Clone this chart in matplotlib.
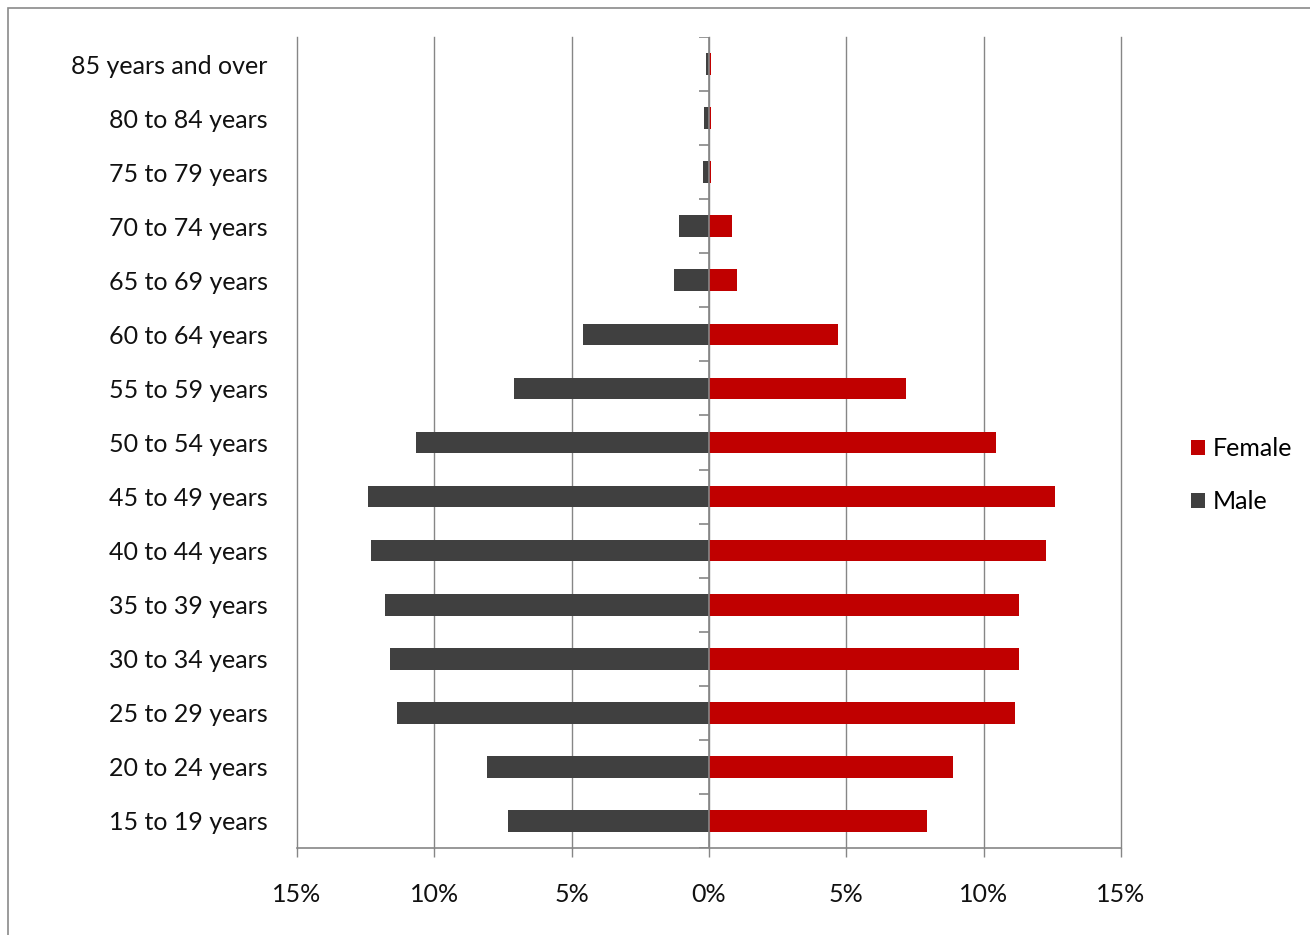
import matplotlib.pyplot as plt
import numpy as np
from matplotlib.patches import Rectangle
from matplotlib.ticker import FuncFormatter

# age groups listed bottom to top
AGE_GROUPS = [
    "15 to 19 years", "20 to 24 years", "25 to 29 years", "30 to 34 years",
    "35 to 39 years", "40 to 44 years", "45 to 49 years", "50 to 54 years",
    "55 to 59 years", "60 to 64 years", "65 to 69 years", "70 to 74 years",
    "75 to 79 years", "80 to 84 years", "85 years and over",
]
# share of each sex, in percent
MALE = [7.3, 8.1, 11.35, 11.6, 11.8, 12.3, 12.4, 10.65, 7.1, 4.6, 1.27, 1.1, 0.23, 0.17, 0.1]
FEMALE = [7.94, 8.9, 11.15, 11.3, 11.3, 12.27, 12.6, 10.45, 7.17, 4.7, 1.02, 0.84, 0.07, 0.07, 0.07]
XTICKS = [-15, -10, -5, 0, 5, 10, 15]

MALE_COLOR = "#404040"
FEMALE_COLOR = "#C00000"
GRID = "#868686"
FS = 18

plt.rcParams["font.family"] = ["Lato", "DejaVu Sans"]

fig = plt.figure(figsize=(13.1, 9.35), dpi=100)
# chart-area border, Excel style
fig.patches.append(Rectangle((8 / 1310, -0.01), 1.1, 1.0014, transform=fig.transFigure,
                             fill=False, edgecolor="#8a8a8a", linewidth=1.2))

ax = fig.add_axes([297 / 1310, 87 / 935, 824 / 1310, 811 / 935])
y = np.arange(len(AGE_GROUPS))

ax.barh(y, FEMALE, height=0.4, color=FEMALE_COLOR, label="Female", zorder=3)
ax.barh(y, [-m for m in MALE], height=0.4, color=MALE_COLOR, label="Male", zorder=3)

ax.set_xlim(-15, 15)
ax.set_ylim(-0.5, len(AGE_GROUPS) - 0.5)
ax.set_xticks(XTICKS)
ax.xaxis.set_major_formatter(FuncFormatter(lambda v, _: f"{abs(v):.0f}%"))
ax.grid(axis="x", color=GRID, linewidth=1.0, zorder=0)
for gl in ax.get_xgridlines():
    gl.set_clip_on(False)

# category axis sits on 0, with boundary ticks pointing left
ax.axvline(0, color=GRID, linewidth=1.2, zorder=4)
ax.hlines(np.arange(len(AGE_GROUPS) + 1) - 0.5, -0.36, 0, color=GRID, linewidth=1.2, zorder=4)

ax.set_yticks(y)
ax.set_yticklabels(AGE_GROUPS)
for spine in ("top", "right", "left"):
    ax.spines[spine].set_visible(False)
ax.spines["bottom"].set_color(GRID)
ax.spines["bottom"].set_linewidth(1.2)
ax.tick_params(axis="y", length=0, pad=21, labelsize=FS, labelcolor="#111111")
ax.tick_params(axis="x", length=6.5, width=1.0, color=GRID, pad=19, labelsize=FS,
               labelcolor="#111111")

handles, labels = ax.get_legend_handles_labels()
ax.legend(handles, labels, loc="center left", bbox_to_anchor=(1.058, 0.46), frameon=False,
          fontsize=FS, handlelength=0.55, handleheight=0.55, handletextpad=0.3,
          labelspacing=1.2)

fig.savefig("out.png", dpi=100)
